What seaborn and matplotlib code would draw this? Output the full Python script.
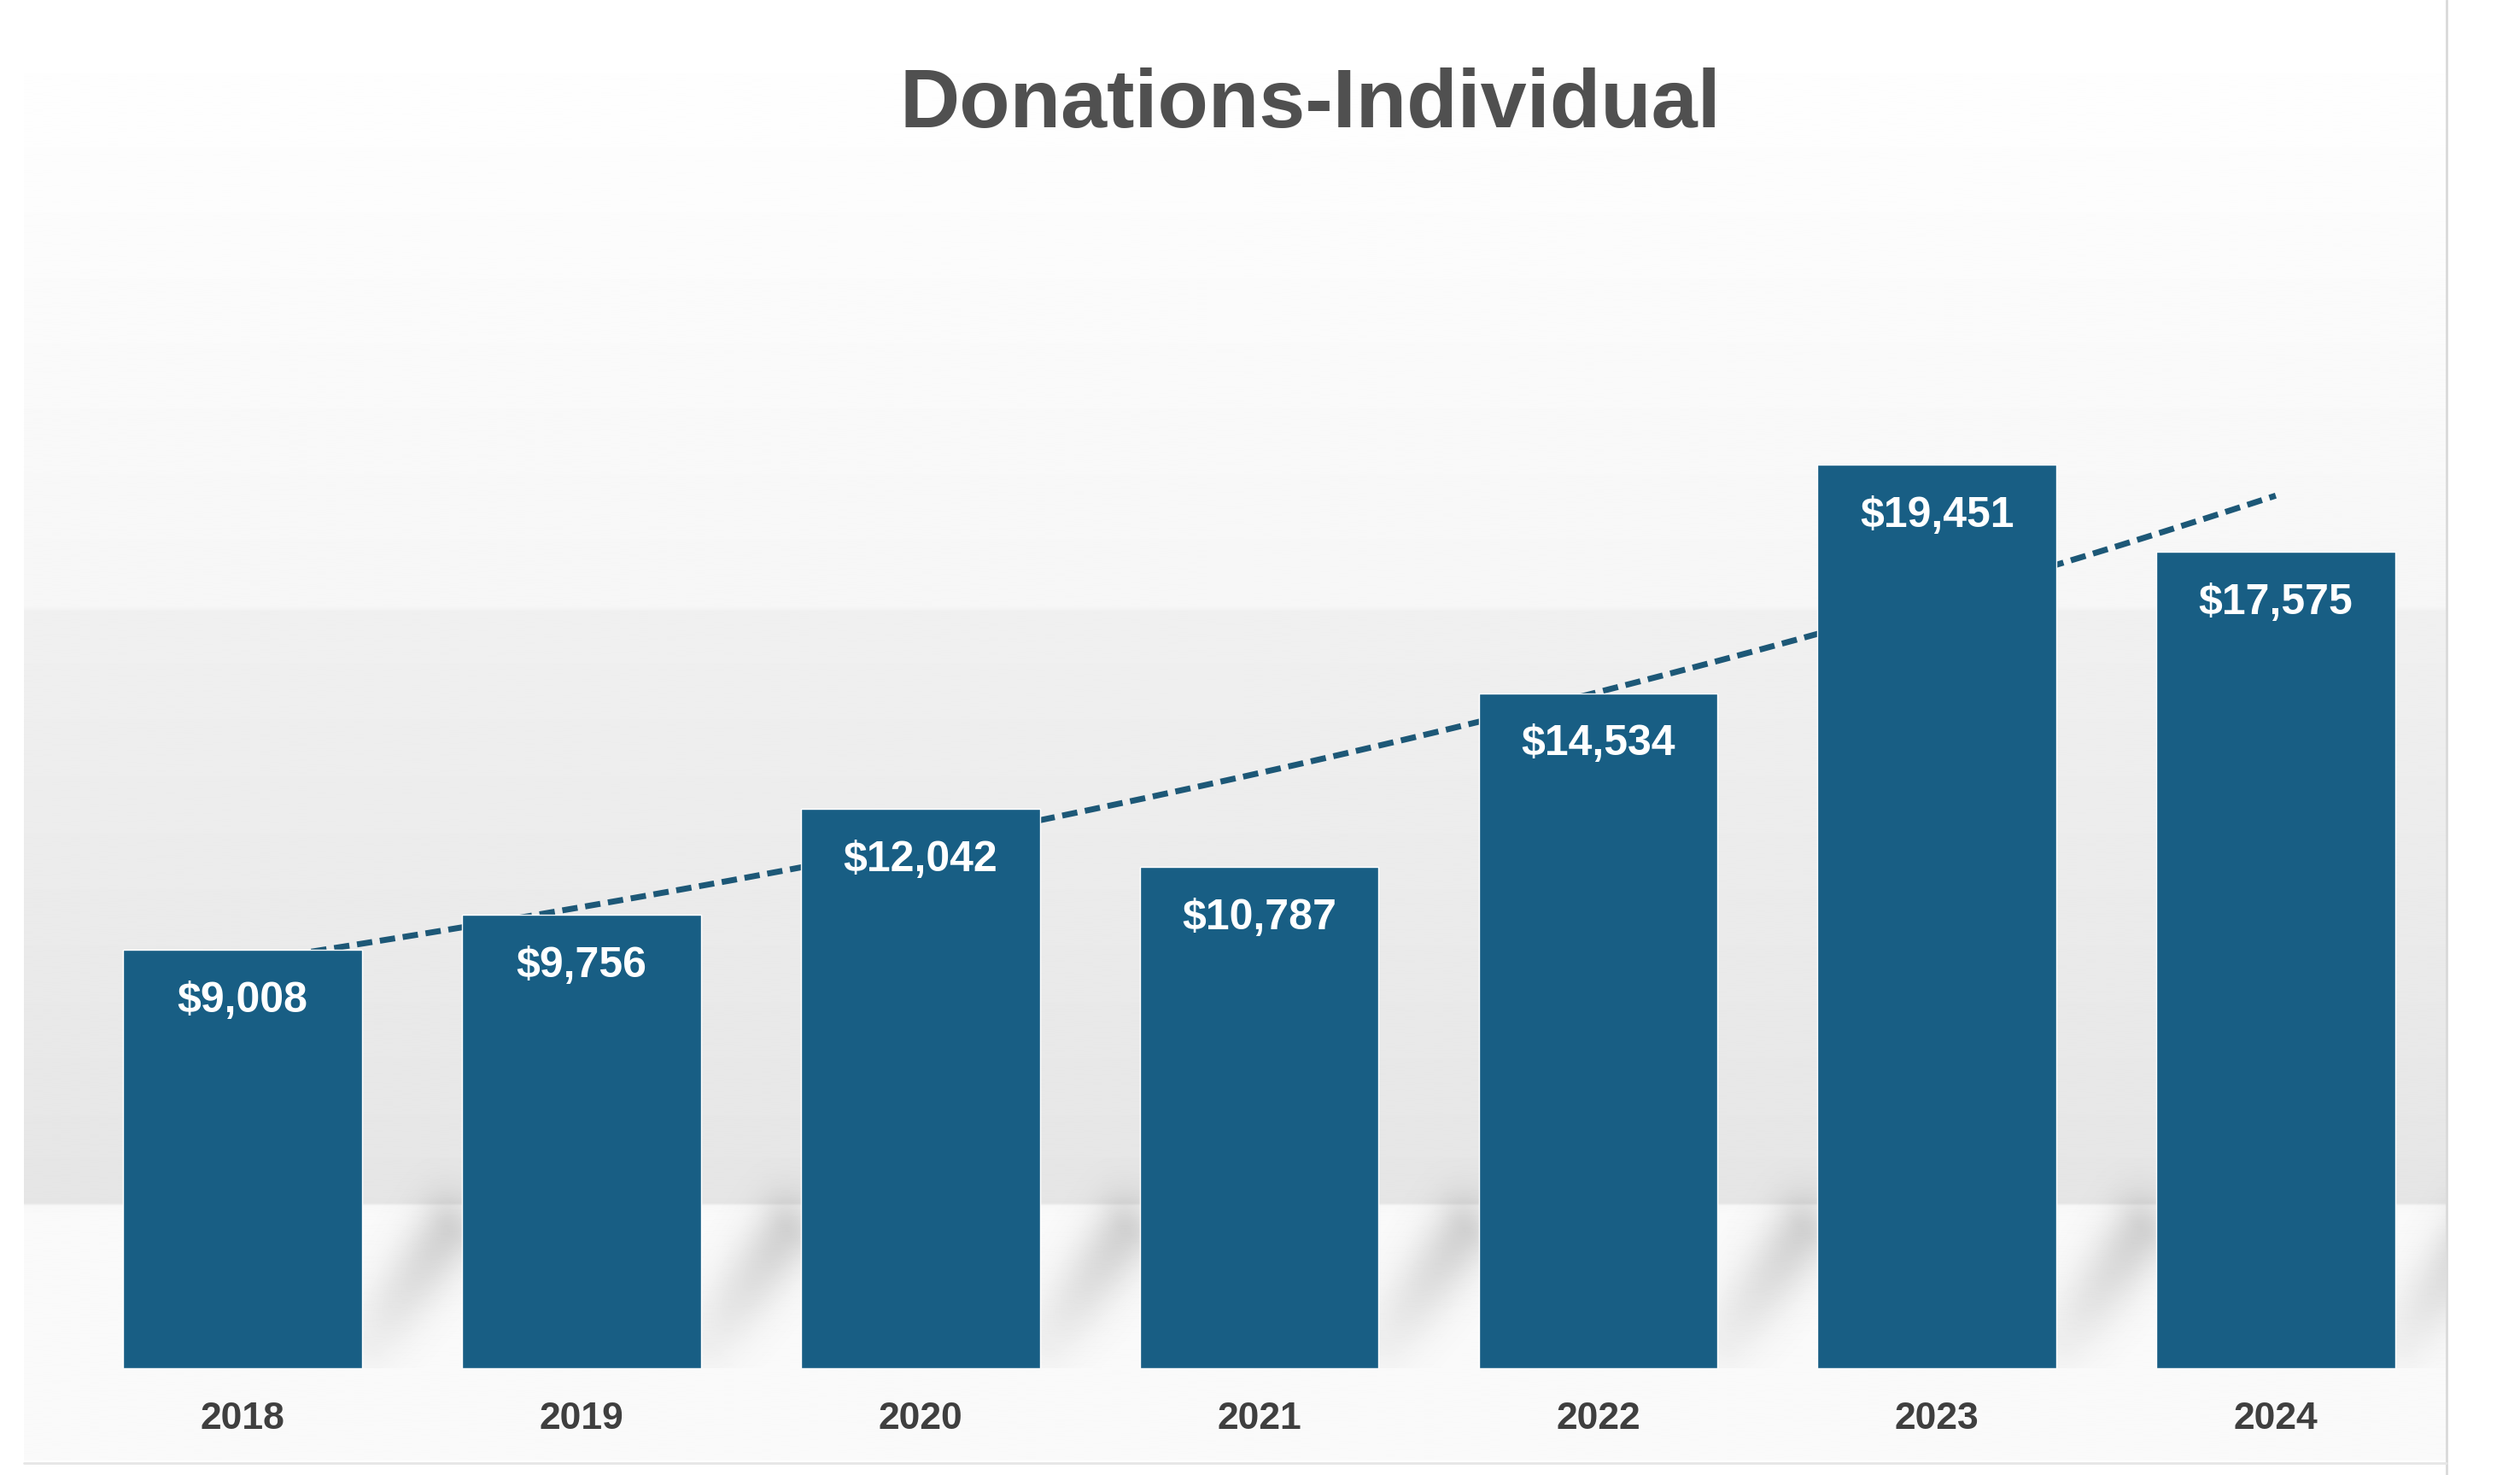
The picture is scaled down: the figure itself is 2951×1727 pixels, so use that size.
import numpy as np
import pandas as pd
import matplotlib
matplotlib.use('Agg')
import matplotlib.pyplot as plt
import seaborn as sns

years = ['2018', '2019', '2020', '2021', '2022', '2023', '2024']
donations = [9008, 9756, 12042, 10787, 14534, 19451, 17575]
value_labels = ['$9,008', '$9,756', '$12,042', '$10,787', '$14,534', '$19,451', '$17,575']
title = 'Donations-Individual'

bar_color = '#185E84'
trend_color = '#1D5877'
bar_width = 0.705

sns.set_theme(style='white')
plt.rcParams['font.family'] = ['Liberation Sans', 'DejaVu Sans']

fig = plt.figure(figsize=(29.51, 17.27), dpi=100)
fig.patch.set_facecolor('white')

# soft gray backdrop (fractions measured from the top of the figure)
bg = fig.add_axes([0.0096, 0.0, 0.9611, 1.0], zorder=0)
stops = [0.0, 0.10, 0.412, 0.414, 0.76, 0.816, 0.818, 0.99, 0.991, 1.0]
greys = [255, 253, 246, 240, 231, 229, 249, 250, 255, 255]
rows = np.interp(np.linspace(0, 1, 1000), stops, greys) / 255.0
bg.imshow(rows[:, None], cmap='gray', vmin=0, vmax=1, aspect='auto',
          extent=[0, 1, 0, 1], interpolation='bilinear')
bg.set_xlim(0, 1)
bg.set_ylim(0, 1)
bg.set_axis_off()

ax_box = [0.0291, 0.0726, 0.9412, 0.6924]
ymax = 22000
ax = fig.add_axes(ax_box, zorder=1)
ax.patch.set_alpha(0)

df = pd.DataFrame({'year': years, 'amount': donations})
sns.barplot(data=df, x='year', y='amount', color=bar_color, saturation=1,
            width=bar_width, ax=ax, zorder=3)

# soft diagonal shadows beside the bar feet
band_y = (1 - 0.818 - ax_box[1]) / ax_box[3] * ymax
gx = np.linspace(-0.5, len(years) - 0.5, 1400)
gy = np.linspace(0, band_y * 1.3, 300)
GX, GY = np.meshgrid(gx, gy)
shade = np.zeros_like(GX)
gap = 1 - bar_width
yscale = 2.5 / ymax
for p in ax.patches:
    r = p.get_x() + p.get_width()
    x1, y1 = r + 0.03, band_y * 0.2
    x2, y2 = r + gap * 0.85, band_y * 0.85
    dx, dy = (x2 - x1), (y2 - y1) * yscale
    t = np.clip(((GX - x1) * dx + (GY - y1) * yscale * dy) / (dx * dx + dy * dy), 0, 1)
    d = np.hypot(GX - (x1 + t * dx), (GY - y1) * yscale - t * dy)
    fade = 0.3 + 0.7 * t
    shade = np.maximum(shade, fade * np.exp(-(d / 0.09) ** 2))
rgba = np.zeros(shade.shape + (4,))
rgba[..., :3] = 0.45
rgba[..., 3] = 0.3 * shade
ax.imshow(rgba, extent=[gx[0], gx[-1], gy[0], gy[-1]], origin='lower',
          aspect='auto', zorder=0.5, interpolation='bilinear')

# exponential trendline fitted to the data, sitting behind the bars
xs = np.arange(len(donations))
k, b = np.polyfit(xs, np.log(donations), 1)
xt = np.linspace(0, len(donations) - 1, 200)
sns.lineplot(x=xt, y=np.exp(b + k * xt), ax=ax, color=trend_color,
             linewidth=5, linestyle=(0, (2.6, 1.3)), zorder=1)

for i, (v, lab) in enumerate(zip(donations, value_labels)):
    ax.annotate(lab, (i, v), xytext=(0, -43), textcoords='offset points',
                ha='center', va='center', color='white', fontsize=36,
                fontweight='bold', zorder=4)

ax.set_xlim(-0.5, len(years) - 0.5)
ax.set_ylim(0, ymax)
ax.set_xlabel('')
ax.set_ylabel('')
ax.set_yticks([])
ax.tick_params(axis='x', length=0, pad=28, labelsize=32, labelcolor='#3F3F3F')
for t in ax.get_xticklabels():
    t.set_fontweight('bold')
sns.despine(ax=ax, left=True, bottom=True)

fig.text(0.52, 0.928, title, ha='center', va='center', fontsize=70,
         fontweight='bold', color='#505050')

fig.add_artist(plt.Line2D([0.9707, 0.9707], [0.0, 1.0], color='#D9D9D9', lw=2))
fig.add_artist(plt.Line2D([0.0096, 0.9707], [0.008, 0.008], color='#E6E6E6', lw=2))

fig.savefig('out.png', dpi=100)
plt.close(fig)
